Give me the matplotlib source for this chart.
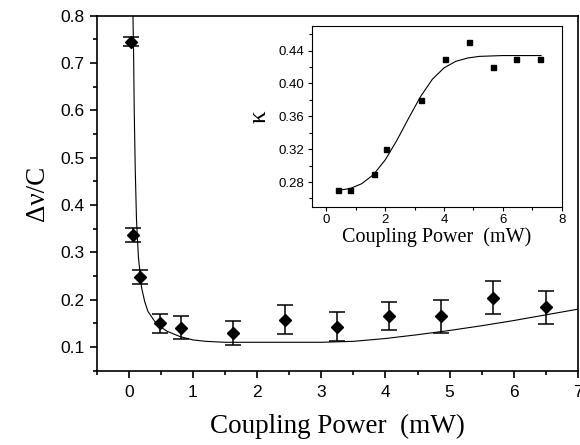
import matplotlib
matplotlib.use("Agg")
import matplotlib.pyplot as plt
from matplotlib.ticker import MultipleLocator

# Main panel data
power = [0.04, 0.07, 0.18, 0.49, 0.81, 1.63, 2.44, 3.25, 4.06, 4.86, 5.68, 6.50]
dnu_c = [0.745, 0.337, 0.248, 0.150, 0.141, 0.130, 0.158, 0.143, 0.165, 0.165, 0.204, 0.184]
dnu_err = [0.010, 0.015, 0.015, 0.020, 0.025, 0.025, 0.030, 0.030, 0.030, 0.035, 0.035, 0.035]

fit_x = [0.065, 0.075, 0.085, 0.10, 0.12, 0.15, 0.20, 0.25, 0.30, 0.40, 0.50, 0.60, 0.80,
         1.0, 1.2, 1.5, 2.0, 2.5, 3.0, 3.5, 4.0, 4.5, 5.0, 5.5, 6.0, 6.5, 7.0]
fit_y = [0.80, 0.72, 0.60, 0.48, 0.37, 0.29, 0.225, 0.195, 0.175, 0.155, 0.142, 0.133, 0.122,
         0.115, 0.112, 0.110, 0.110, 0.110, 0.110, 0.112, 0.118, 0.126, 0.135, 0.145, 0.156, 0.168, 0.180]

# Inset data
ins_power = [0.40, 0.80, 1.61, 2.01, 3.22, 4.04, 4.85, 5.66, 6.46, 7.27]
kappa = [0.27, 0.27, 0.29, 0.32, 0.38, 0.43, 0.45, 0.42, 0.43, 0.43]
ins_fit_x = [0.4, 0.8, 1.2, 1.6, 2.0, 2.4, 2.8, 3.2, 3.6, 4.0, 4.4, 4.8, 5.2, 6.0, 7.3]
ins_fit_y = [0.270, 0.272, 0.278, 0.289, 0.307, 0.331, 0.358, 0.384, 0.405, 0.419,
             0.427, 0.431, 0.433, 0.434, 0.434]

main_xticks = [0, 1, 2, 3, 4, 5, 6, 7]
main_yticks = [0.1, 0.2, 0.3, 0.4, 0.5, 0.6, 0.7, 0.8]
ins_xticks = [0, 2, 4, 6, 8]
ins_yticks = [0.28, 0.32, 0.36, 0.40, 0.44]

sans = ["Liberation Sans", "DejaVu Sans"]
serif = ["Liberation Serif", "DejaVu Serif"]

fig = plt.figure(figsize=(5.8, 4.45), dpi=100)
ax = fig.add_axes([0.1667, 0.167, 0.8299, 0.7977])

ax.plot(fit_x, fit_y, color="black", lw=0.8)
ax.errorbar(power, dnu_c, yerr=dnu_err, fmt="D", color="black", ms=6.5,
            capsize=6, elinewidth=1.1, capthick=1.1)

ax.set_xlim(-0.5, 7)
ax.set_ylim(0.05, 0.8)
ax.set_xticks(main_xticks)
ax.set_yticks(main_yticks)
ax.xaxis.set_minor_locator(MultipleLocator(0.5))
ax.yaxis.set_minor_locator(MultipleLocator(0.05))
ax.tick_params(which="both", direction="out", top=False, right=False, width=1.2)
ax.tick_params(which="major", length=5, labelsize=12.5)
ax.tick_params(axis="x", which="major", pad=5)
ax.tick_params(axis="y", which="major", pad=4)
ax.tick_params(which="minor", length=3)
for lab in ax.get_xticklabels() + ax.get_yticklabels():
    lab.set_family(sans)
for s in ax.spines.values():
    s.set_linewidth(1.2)
ax.set_xlabel("Coupling Power  (mW)", family=serif, fontsize=19.5, labelpad=10)
ax.set_ylabel("\u0394\u03bd/C", family=serif, fontsize=19.5, labelpad=7)

ins = fig.add_axes([0.5374, 0.5355, 0.4310, 0.4061])
ins.plot(ins_fit_x, ins_fit_y, color="black", lw=0.8)
ins.plot(ins_power, kappa, "s", color="black", ms=3.6)
ins.set_xlim(-0.5, 8)
ins.set_ylim(0.25, 0.47)
ins.set_xticks(ins_xticks)
ins.set_yticks(ins_yticks)
ins.set_yticklabels(["%.2f" % v for v in ins_yticks])
ins.xaxis.set_minor_locator(MultipleLocator(1))
ins.yaxis.set_minor_locator(MultipleLocator(0.02))
ins.tick_params(which="both", direction="out", top=False, right=False, width=0.8)
ins.tick_params(which="major", length=3, labelsize=9.5, pad=2)
ins.tick_params(which="minor", length=2)
for lab in ins.get_xticklabels() + ins.get_yticklabels():
    lab.set_family(sans)
for s in ins.spines.values():
    s.set_linewidth(0.8)
ins.set_xlabel("Coupling Power  (mW)", family=serif, fontsize=14.5, labelpad=1)
ins.set_ylabel("\u03ba", family=serif, fontsize=18, labelpad=6)

fig.savefig("out.png", dpi=100)
